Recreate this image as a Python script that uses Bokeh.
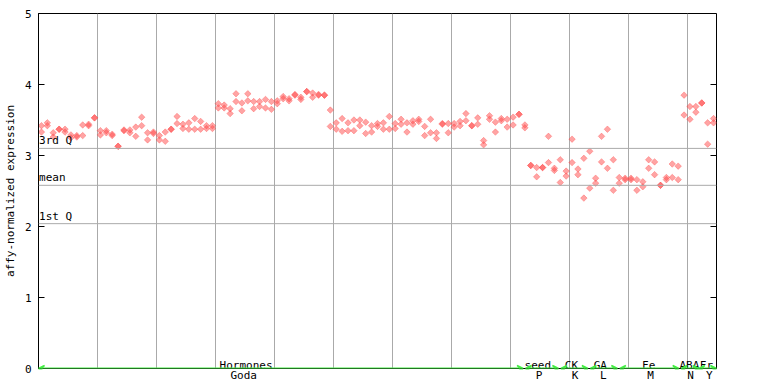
import numpy as np
from bokeh.plotting import figure
from bokeh.models import FixedTicker, Span, Arrow, VeeHead, Label, ColumnDataSource
from bokeh.core.properties import value
from bokeh.embed import file_html
from bokeh.resources import INLINE

# ---- data ----
rep_a = [3.42, 3.46, 3.32, 3.37, 3.37, 3.29, 3.28, 3.43, 3.44, 3.53,
         3.35, 3.35, 3.30, 3.13, 3.36, 3.36, 3.40, 3.54, 3.32, 3.33,
         3.28, 3.33, 3.37, 3.55, 3.44, 3.46, 3.52, 3.48, 3.42, 3.42,
         3.73, 3.71, 3.66, 3.87, 3.74, 3.87, 3.76, 3.76, 3.79, 3.76,
         3.77, 3.83, 3.80, 3.86, 3.82, 3.90, 3.88, 3.86, 3.85, 3.64,
         3.46, 3.52, 3.46, 3.50, 3.50, 3.47, 3.42, 3.45, 3.46, 3.55,
         3.45, 3.51, 3.46, 3.49, 3.51, 3.41, 3.51, 3.32, 3.45, 3.45,
         3.45, 3.48, 3.59, 3.42, 3.53, 3.21, 3.56, 3.47, 3.52, 3.51,
         3.54, 3.58, 3.43, 2.86, 2.83, 2.83, 3.27, 2.82, 2.94, 2.78,
         3.23, 2.81, 2.96, 3.06, 2.68, 3.27, 3.37, 2.94, 2.69, 2.68,
         2.68, 2.66, 2.63, 2.94, 2.91, 2.58, 2.69, 2.88, 2.85, 3.85,
         3.69, 3.69, 3.74, 3.46, 3.52]
rep_b = [3.33, 3.42, 3.26, 3.37, 3.33, 3.25, 3.26, 3.28, 3.42, 3.53,
         3.29, 3.32, 3.28, 3.13, 3.35, 3.32, 3.27, 3.42, 3.22, 3.31,
         3.22, 3.20, 3.37, 3.45, 3.38, 3.37, 3.37, 3.37, 3.38, 3.38,
         3.67, 3.67, 3.59, 3.76, 3.63, 3.77, 3.66, 3.69, 3.67, 3.65,
         3.73, 3.80, 3.77, 3.85, 3.79, 3.90, 3.82, 3.85, 3.85, 3.41,
         3.37, 3.34, 3.35, 3.35, 3.42, 3.31, 3.33, 3.41, 3.37, 3.37,
         3.38, 3.44, 3.33, 3.44, 3.48, 3.28, 3.32, 3.24, 3.44, 3.32,
         3.40, 3.42, 3.49, 3.42, 3.44, 3.15, 3.51, 3.33, 3.49, 3.40,
         3.43, 3.58, 3.39, 2.86, 2.70, 2.83, 2.90, 2.79, 2.62, 2.71,
         2.90, 2.73, 2.40, 2.54, 2.61, 2.91, 2.82, 2.51, 2.61, 2.66,
         2.66, 2.51, 2.56, 2.82, 2.73, 2.58, 2.66, 2.69, 2.66, 3.57,
         3.51, 3.61, 3.74, 3.16, 3.46]

stat_values = [3.10, 2.58, 2.04]
stat_labels = ["3rd Q", "mean", "1st Q"]

group_top = ["Hormones", "seed", "CK", "GA", "Fe", "ABA", "Fr"]
group_bottom = ["Goda", "P", "K", "L", "M", "N", "Y"]
group_top_pos = [35.2, 84.7, 90.4, 95.3, 103.5, 110.4, 113.3]
group_bottom_pos = [34.8, 84.9, 91.0, 95.8, 103.8, 110.6, 113.8]
group_start = [0.0, 82.6, 88.6, 93.6, 98.6, 109.0, 112.0]
group_end = [82.2, 88.2, 93.2, 98.2, 108.6, 112.0, 115.0]

y_ticks = [0, 1, 2, 3, 4, 5]
grid_x = [10, 20, 30, 40, 50, 60, 70, 80, 90, 100, 110]

X_MAX = 115
n = len(rep_a)
xs = [k + 0.5 for k in range(n)]

MONO = "DejaVu Sans Mono"
RED = "#ff4a4a"
GREEN = "#44ee44"

W, H = 768, 384
BL, BR, BT, BB = 37, 52, 13, 15
FRAME_W = W - BL - BR

p = figure(width=W, height=H, x_range=(0, X_MAX), y_range=(0, 5),
           output_backend="svg", toolbar_location=None,
           min_border_left=BL, min_border_right=BR, min_border_top=BT,
           min_border_bottom=BB)
p.background_fill_color = "white"
p.outline_line_color = "black"

# grids
p.ygrid.grid_line_color = None
p.xgrid.ticker = FixedTicker(ticks=grid_x)
p.xgrid.grid_line_color = "#aaaaaa"
p.xgrid.grid_line_width = 1

for v in stat_values:
    p.add_layout(Span(location=v, dimension="width", line_color="#aaaaaa", line_width=1))

# y axis
p.yaxis.ticker = FixedTicker(ticks=y_ticks)
p.yaxis.major_tick_in = 6
p.yaxis.major_tick_out = 0
p.yaxis.minor_tick_line_color = None
p.yaxis.major_label_standoff = 7
p.yaxis.axis_label = "affy-normalized expression"
p.yaxis.axis_label_standoff = 5
p.yaxis.axis_label_text_font = MONO
p.yaxis.axis_label_text_font_style = "normal"
p.yaxis.axis_label_text_font_size = "11px"
p.yaxis.axis_label_text_color = "black"
p.yaxis.major_label_text_font = MONO
p.yaxis.major_label_text_font_size = "11px"
p.yaxis.major_label_text_color = "black"
p.yaxis.axis_line_color = "black"
p.yaxis.major_tick_line_color = "black"

# x axis: bottom group labels as tick labels
p.xaxis.ticker = FixedTicker(ticks=group_bottom_pos)
p.xaxis.major_label_overrides = {t: l for t, l in zip(group_bottom_pos, group_bottom)}
p.xaxis.major_tick_in = 0
p.xaxis.major_tick_out = 0
p.xaxis.major_tick_line_color = None
p.xaxis.minor_tick_line_color = None
p.xaxis.major_label_standoff = 0
p.xaxis.major_label_text_font = MONO
p.xaxis.major_label_text_font_size = "11px"
p.xaxis.major_label_text_color = "black"
p.xaxis.axis_line_color = "black"

# right-side inward ticks
tick_len = 6 * X_MAX / FRAME_W
p.segment(x0=[X_MAX - tick_len] * len(y_ticks), y0=y_ticks, x1=[X_MAX] * len(y_ticks), y1=y_ticks,
          line_color="black", line_width=1)

# data points
src = ColumnDataSource(dict(x=xs, a=rep_a, b=rep_b))
for col in ("a", "b"):
    p.scatter("x", col, source=src, marker="square", angle=np.pi / 4, size=4.6,
              fill_color=RED, fill_alpha=0.5, line_color=RED, line_alpha=0.45, line_width=0.8)

# stat labels
for v, t in zip(stat_values, stat_labels):
    p.add_layout(Label(x=0.1, y=v, text=t, text_font=MONO, text_font_size="11px",
                       text_baseline="bottom", text_align="left", y_offset=1, text_color="black"))

# group arrows
for s, e in zip(group_start, group_end):
    p.add_layout(Arrow(x_start=s, y_start=0, x_end=e, y_end=0, line_color=GREEN, line_width=2,
                       start=VeeHead(size=6, line_color=GREEN, line_width=1.5, fill_color=None),
                       end=VeeHead(size=6, line_color=GREEN, line_width=1.5, fill_color=None)))

# top group labels (inside frame, just above the axis)
p.text(x=group_top_pos, y=[0] * len(group_top_pos), text=group_top, text_font=value(MONO),
       text_font_size="11px", text_align="center", text_baseline="alphabetic", y_offset=-3,
       text_color="black")

open("out.html", "w").write(file_html(p, INLINE))
